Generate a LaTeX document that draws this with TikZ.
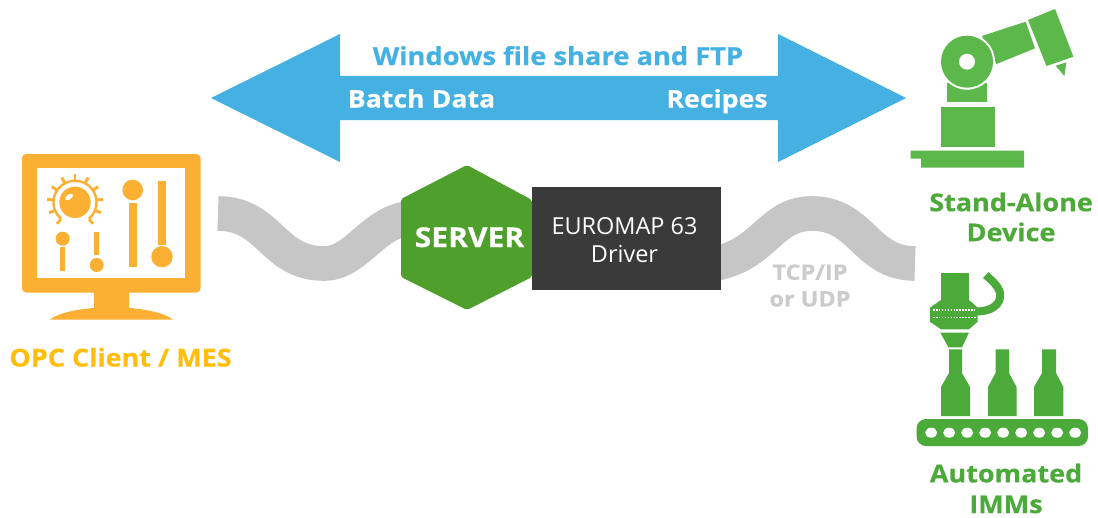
\documentclass[tikz,border=0pt]{standalone}
\usepackage{fontspec}
\setmainfont[BoldFeatures={FakeBold=0.5,FakeStretch=1.1}]{Open Sans}
\definecolor{skyb}{HTML}{45B1E3}
\definecolor{amberi}{HTML}{FBB034}
\definecolor{ambert}{HTML}{FFBE0B}
\definecolor{robg}{HTML}{5CB84A}
\definecolor{textg}{HTML}{4DAA38}
\definecolor{immg}{HTML}{4BAA3A}
\definecolor{hexg}{HTML}{4F9F2D}
\definecolor{darkb}{HTML}{3A3A3A}
\definecolor{waveg}{HTML}{C6C6C6}
\definecolor{labg}{HTML}{CBCBCB}
\tikzset{
  x=0.75pt,y=-0.75pt,
  wave/.style={draw=waveg,line width=26pt,line cap=butt},
  lab/.style={inner sep=0pt,align=center,anchor=base,font=\fontsize{#1}{#1}\selectfont\bfseries},
  lab/.default=18
}
\begin{document}
\begin{tikzpicture}
\useasboundingbox (0,0) rectangle (1098,517);
\fill[white] (0,0) rectangle (1098,517);
% positions of the nodes
\node[inner sep=0pt,minimum width=98.25pt,minimum height=108.75pt] (hex) at (466.5,237.5) {};
\node[inner sep=0pt,minimum width=141.75pt,minimum height=77.25pt] (box) at (626.5,238.5) {};
\coordinate (lstart) at (218,213.5);
\coordinate (rend) at (915,263.5);
% waves
\draw[wave] (lstart) .. controls (270,213.5) and (272,263.5) .. (324,263.5) .. controls (370,263.5) and (382,182) .. (hex.center);
\draw[wave] (box.center) .. controls (670,275) and (700,268) .. (722,262) .. controls (766,250) and (772,213.5) .. (812,213.5) .. controls (862,213.5) and (865,263.5) .. (rend);
% big arrow
\fill[skyb] (211,98) -- (340,34) -- (340,76) -- (778,76) -- (778,34) -- (906,98) -- (778,162) -- (778,120) -- (340,120) -- (340,162) -- cycle;
\node[lab=18.6,text=skyb] (share) at (558,65) {Windows file share and FTP};
\node[lab=18.2,text=white] (batch) at (421.5,107.5) {Batch Data};
\node[lab=18.2,text=white] (recipes) at (717,107.5) {Recipes};
% server
\fill[hexg,rounded corners=1.5pt] (467,165) -- (532,200) -- (532,277) -- (467,310) -- (401,277) -- (401,199) -- cycle;
\node[lab=20.5,text=white] (srv) at (469.5,247) {SERVER};
\fill[darkb] (box.south west) rectangle (box.north east);
\node[inner sep=0pt,align=center,text=white,font=\fontsize{17.6}{21}\selectfont] (drv) at (624.5,240) {EUROMAP 63\\Driver};
\node[inner sep=0pt,text=labg,align=center,font=\fontsize{16}{20}\selectfont\bfseries] (tcp) at (810,285.5) {TCP/IP\\or UDP};
% monitor
\fill[amberi,rounded corners=3pt] (22,154) rectangle (200.5,292.5);
\fill[white] (36.7,168.3) rectangle (185,277.7);
\fill[amberi] (94,290) -- (129,290) -- (129,308) .. controls (145,309) and (165,313) .. (172.7,319.5) -- (50,319.5) .. controls (58,313) and (78,309) .. (94,308) -- cycle;
\fill[amberi] (75,202.3) circle (15.7);
\fill[white,rotate around={35:(69,197)}] (69,197) ellipse (4.5 and 2.5);
\draw[amberi,line width=1.8pt] plot[domain=130:410,samples=40] ({75+21.5*cos(\x)},{202.3+21.5*sin(\x)});
\foreach \a in {130,158,...,410}
  \draw[amberi,line width=2.2pt] ({75+22*cos(\a)},{202.3+22*sin(\a)}) -- ({75+28*cos(\a)},{202.3+28*sin(\a)});
\fill[amberi] (62.7,238.7) circle (7);
\fill[amberi] (60,247.3) rectangle (65,271);
\fill[amberi] (94,231.7) rectangle (99.3,255);
\fill[amberi] (96.7,265) circle (7);
\fill[amberi] (132.7,190) circle (10.3);
\fill[amberi] (129.3,202.7) rectangle (137,266.7);
\fill[amberi] (158,180.7) rectangle (165.7,245);
\fill[amberi] (162,256.7) circle (10.7);
\node[lab=18.4,text=ambert] (opc) at (120.5,366.5) {OPC Client / MES};
% robot
\fill[robg] (910.5,150.7) -- (1024,150.7) -- (1024,167.7) -- (921,167.7) -- (921,158.7) -- (910.5,158.7) -- cycle;
\fill[robg] (941.3,106.7) rectangle (994.5,146.7);
\fill[robg] (947,83.3) rectangle (987,101.7);
\fill[robg] (981.9,36) -- (1025.7,21.7) -- (1035,48.3) -- (996.5,64) -- cycle;
\fill[white] (967,61.7) circle (28);
\fill[robg] (967,61.7) circle (26);
\fill[white] (967,61.7) circle (8);
\fill[robg] (1028,20) -- (1055,9) -- (1073.4,56.7) -- (1046.5,66) -- cycle;
\fill[robg] (1055.6,65.7) -- (1066.3,62.3) -- (1064.4,76) -- cycle;
\node[inner sep=0pt,text=textg,align=center,font=\fontsize{18.4}{22.5}\selectfont\bfseries] (stand) at (1011,217) {Stand-Alone\\Device};
% machine
\fill[immg] (941,273.3) rectangle (969,300);
\fill[immg] (941,300) -- (969,300) -- (977.7,307.7) -- (977.7,321.7) -- (969,329.3) -- (941,329.3) -- (929.9,321.7) -- (929.9,307.7) -- cycle;
\draw[white,line width=1.2pt,dash pattern=on 1.2pt off 1pt] (933,310) -- (976,310);
\draw[white,line width=1.2pt,dash pattern=on 1.2pt off 1pt] (933,317.3) -- (976,317.3);
\fill[immg] (940.3,332.7) -- (968.9,332.7) -- (962,347.3) -- (948.4,347.3) -- cycle;
\draw[immg,line width=6pt] (975,311.5) .. controls (990,312) and (1002,305) .. (1000,293) .. controls (998,285) and (992,281) .. (985.8,275);
\foreach \l/\r/\nl/\nr in {941/970/949/962,988/1016.6/995.5/1009,1034/1063.4/1042/1056}
  \fill[immg] (\nl,349.3) -- (\nr,349.3) -- (\nr,373) -- (\r,387) -- (\r,416) -- (\l,416) -- (\l,387) -- (\nl,373) -- cycle;
\fill[immg,rounded corners=7pt] (916.6,419) rectangle (1088,446);
\foreach \i in {0,...,8}
  \fill[white] ({931.2+18*\i},432.7) ellipse (6 and 5);
\node[inner sep=0pt,text=immg,align=center,font=\fontsize{18.4}{23}\selectfont\bfseries] (imm) at (1006,488.5) {Automated\\IMMs};
\end{tikzpicture}
\end{document}
